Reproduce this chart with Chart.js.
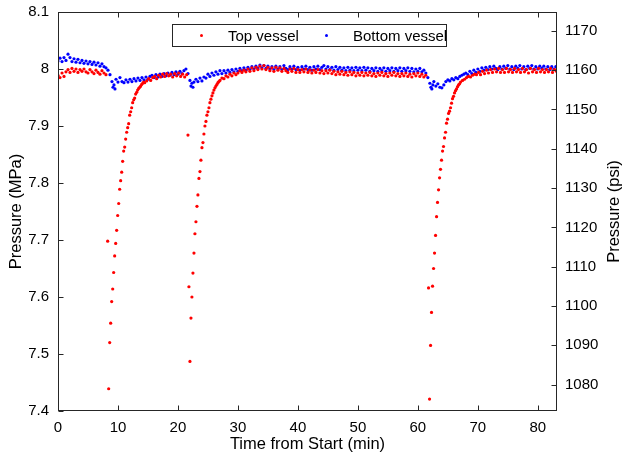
<!DOCTYPE html>
<html>
<head>
<meta charset="utf-8">
<script src="https://cdn.jsdelivr.net/npm/chart.js@4.4.1/dist/chart.umd.min.js"></script>
<style>
  body { margin: 0; background: #fff; }
  #wrap { position: relative; width: 624px; height: 463px; }
  #legend {
    position: absolute; left: 172px; top: 24px; width: 273px; height: 21px;
    border: 1px solid #262626; background: #fff;
    font: 15px "Liberation Sans", Arial, sans-serif; color: #000;
  }
  #legend span { position: absolute; top: 2px; white-space: nowrap; }
  #legend i { position: absolute; top: 9px; width: 3px; height: 3px; border-radius: 50%; }
</style>
</head>
<body>
<div id="wrap">
  <canvas id="chart" width="624" height="463"></canvas>
  <div id="legend">
    <i style="left:27px;background:#ff0000"></i><span style="left:55px">Top vessel</span>
    <i style="left:152px;background:#0000ff"></i><span style="left:180px">Bottom vessel</span>
  </div>
</div>
<script>
// Top vessel (red) - time in min, pressure in MPa
const topTime = [
  0.0, 0.33, 0.67, 1.0, 1.33, 1.67, 2.0, 2.33, 2.67, 3.0, 3.33, 3.67, 4.0, 4.33, 4.67, 5.0, 5.33, 5.67, 6.0, 6.33, 6.67, 7.0, 7.33, 7.67, 8.0,
  8.28, 8.45, 8.62, 8.78, 8.95, 9.12, 9.28, 9.45, 9.62, 9.78, 9.95, 10.12, 10.28, 10.45, 10.62, 10.78, 10.95, 11.12, 11.28, 11.45, 11.62, 11.78, 11.95,
  12.12, 12.28, 12.45, 12.62, 12.78, 12.95, 13.12, 13.28, 13.45, 13.62, 13.78, 13.95, 14.12, 14.28, 14.45,
  14.78, 15.12, 15.45, 15.78, 16.12, 16.45, 16.78, 17.12, 17.45, 17.78, 18.12, 18.45, 18.78, 19.12, 19.45, 19.78, 20.12, 20.45, 20.78, 21.12, 21.45,
  21.67, 21.83, 22.0, 22.17, 22.33, 22.5, 22.67, 22.83, 23.0, 23.17, 23.33, 23.5, 23.67, 23.83, 24.0, 24.17, 24.33, 24.5, 24.67, 24.83,
  25.0, 25.17, 25.33, 25.5, 25.67, 25.83, 26.0, 26.17, 26.33, 26.5, 26.67, 26.83, 27.0, 27.33, 27.67, 28.0, 28.33, 28.67, 29.0, 29.33, 29.67,
  30.0, 30.33, 30.67, 31.0, 31.33, 31.67, 32.0, 32.33, 32.67, 33.0, 33.33, 33.67, 34.0, 34.33, 34.67, 35.0, 35.33, 35.67, 36.0, 36.33, 36.67,
  37.0, 37.33, 37.67, 38.0, 38.33, 38.67, 39.0, 39.33, 39.67, 40.0, 40.33, 40.67, 41.0, 41.33, 41.67, 42.0, 42.33, 42.67, 43.0, 43.33, 43.67,
  44.0, 44.33, 44.67, 45.0, 45.33, 45.67, 46.0, 46.33, 46.67, 47.0, 47.33, 47.67, 48.0, 48.33, 48.67, 49.0, 49.33, 49.67, 50.0, 50.33, 50.67,
  51.0, 51.33, 51.67, 52.0, 52.33, 52.67, 53.0, 53.33, 53.67, 54.0, 54.33, 54.67, 55.0, 55.33, 55.67, 56.0, 56.33, 56.67, 57.0, 57.33, 57.67,
  58.0, 58.33, 58.67, 59.0, 59.33, 59.67, 60.0, 60.33, 60.67, 61.0, 61.33,
  61.78, 61.95, 62.12, 62.28, 62.45, 62.62, 62.78, 62.95, 63.12, 63.28, 63.45, 63.62, 63.78, 63.95, 64.12, 64.28, 64.45, 64.62, 64.78, 64.95,
  65.12, 65.28, 65.45, 65.62, 65.78, 65.95, 66.12, 66.28, 66.45, 66.62, 66.78, 66.95, 67.12, 67.45, 67.78, 68.12, 68.45, 68.78, 69.12, 69.45, 69.78,
  70.12, 70.45, 70.78, 71.12, 71.45, 71.78, 72.12, 72.45, 72.78, 73.12, 73.45, 73.78, 74.12, 74.45, 74.78, 75.12, 75.45, 75.78, 76.12, 76.45, 76.78,
  77.12, 77.45, 77.78, 78.12, 78.45, 78.78, 79.12, 79.45, 79.78, 80.12, 80.45, 80.78, 81.12, 81.45, 81.78, 82.12, 82.45, 82.78, 83.12
];
const topMPa = [
  7.989, 7.985, 7.993, 7.987, 7.995, 7.999, 7.994, 8.001, 7.996, 8.000, 7.994, 7.999, 7.996, 8.000, 7.995, 7.993, 7.999, 7.995, 7.992, 7.998, 7.994, 7.991, 7.997, 7.993, 7.990,
  7.698, 7.439, 7.520, 7.554, 7.592, 7.614, 7.643, 7.672, 7.694, 7.717, 7.743, 7.764, 7.789, 7.804, 7.819, 7.838, 7.856, 7.863, 7.877, 7.889, 7.897, 7.904, 7.919,
  7.925, 7.932, 7.941, 7.946, 7.949, 7.956, 7.959, 7.963, 7.966, 7.968, 7.970, 7.973, 7.975, 7.977, 7.976,
  7.979, 7.983, 7.980, 7.985, 7.987, 7.983, 7.989, 7.986, 7.991, 7.987, 7.992, 7.988, 7.991, 7.986, 7.992, 7.988, 7.993, 7.987, 7.991, 7.986, 7.990,
  7.884, 7.618, 7.487, 7.563, 7.600, 7.642, 7.677, 7.711, 7.732, 7.759, 7.779, 7.808, 7.820, 7.840, 7.862, 7.871, 7.886, 7.900, 7.908, 7.919,
  7.925, 7.932, 7.941, 7.947, 7.953, 7.958, 7.963, 7.967, 7.970, 7.973, 7.976, 7.978, 7.980, 7.984, 7.983, 7.988, 7.986, 7.991, 7.988, 7.993, 7.990,
  7.993, 7.997, 7.994, 7.998, 7.995, 8.000, 7.996, 8.002, 7.997, 8.003, 7.999, 8.005, 8.000, 8.006, 7.999, 8.003, 7.997, 8.002, 7.996, 8.003, 7.998,
  8.002, 7.996, 8.001, 7.997, 7.994, 8.000, 7.996, 8.001, 7.994, 7.999, 7.994, 7.999, 7.995, 8.000, 7.994, 7.998, 7.993, 7.998, 7.994, 7.999, 7.993,
  7.997, 7.992, 7.997, 7.993, 7.998, 7.992, 7.996, 7.990, 7.995, 7.991, 7.996, 7.990, 7.994, 7.989, 7.995, 7.990, 7.994, 7.988, 7.993, 7.989, 7.994,
  7.988, 7.993, 7.989, 7.994, 7.988, 7.992, 7.987, 7.993, 7.989, 7.994, 7.988, 7.992, 7.987, 7.993, 7.989, 7.994, 7.988, 7.992, 7.987, 7.992, 7.988,
  7.993, 7.987, 7.991, 7.986, 7.992, 7.988, 7.993, 7.987, 7.991, 7.986, 7.989,
  7.616, 7.421, 7.515, 7.573, 7.619, 7.650, 7.677, 7.708, 7.741, 7.766, 7.788, 7.809, 7.824, 7.840, 7.856, 7.864, 7.879, 7.889, 7.905, 7.912,
  7.922, 7.926, 7.932, 7.940, 7.948, 7.952, 7.958, 7.962, 7.965, 7.969, 7.972, 7.974, 7.977, 7.980, 7.982, 7.985, 7.987, 7.986, 7.989, 7.991, 7.990,
  7.994, 7.990, 7.996, 7.992, 7.998, 7.993, 7.999, 7.994, 8.000, 7.995, 8.001, 7.994, 7.999, 7.994, 8.001, 7.995, 7.999, 7.994, 8.001, 7.995, 7.999,
  7.994, 8.001, 7.995, 7.999, 7.993, 8.001, 7.995, 7.999, 7.994, 8.001, 7.995, 7.999, 7.994, 7.999, 7.995, 8.001, 7.994, 7.999, 7.996
];

// Bottom vessel (blue)
const bottomTime = [
  0.0, 0.33, 0.67, 1.0, 1.33, 1.67, 2.0, 2.33, 2.67, 3.0, 3.33, 3.67, 4.0, 4.33, 4.67, 5.0, 5.33, 5.67, 6.0, 6.33, 6.67, 7.0, 7.33, 7.67, 8.0,
  8.33, 8.67, 9.0, 9.17, 9.33, 9.5, 9.67, 10.0, 10.33, 10.67, 11.0, 11.33, 11.67, 12.0, 12.33, 12.67, 13.0, 13.33, 13.67, 14.0, 14.33, 14.67,
  15.0, 15.33, 15.67, 16.0, 16.33, 16.67, 17.0, 17.33, 17.67, 18.0, 18.33, 18.67, 19.0, 19.33, 19.67, 20.0, 20.33, 20.67, 21.0, 21.33, 21.67,
  22.0, 22.17, 22.33, 22.5, 22.67, 23.0, 23.33, 23.67, 24.0, 24.33, 24.67, 25.0, 25.33, 25.67, 26.0, 26.33, 26.67, 27.0, 27.33, 27.67,
  28.0, 28.33, 28.67, 29.0, 29.33, 29.67, 30.0, 30.33, 30.67, 31.0, 31.33, 31.67, 32.0, 32.33, 32.67, 33.0, 33.33, 33.67, 34.0, 34.33, 34.67,
  35.0, 35.33, 35.67, 36.0, 36.33, 36.67, 37.0, 37.33, 37.67, 38.0, 38.33, 38.67, 39.0, 39.33, 39.67, 40.0, 40.33, 40.67, 41.0, 41.33, 41.67,
  42.0, 42.33, 42.67, 43.0, 43.33, 43.67, 44.0, 44.33, 44.67, 45.0, 45.33, 45.67, 46.0, 46.33, 46.67, 47.0, 47.33, 47.67, 48.0, 48.33, 48.67,
  49.0, 49.33, 49.67, 50.0, 50.33, 50.67, 51.0, 51.33, 51.67, 52.0, 52.33, 52.67, 53.0, 53.33, 53.67, 54.0, 54.33, 54.67, 55.0, 55.33, 55.67,
  56.0, 56.33, 56.67, 57.0, 57.33, 57.67, 58.0, 58.33, 58.67, 59.0, 59.33, 59.67, 60.0, 60.33, 60.67, 61.0, 61.33, 61.67,
  62.0, 62.17, 62.33, 62.5, 62.67, 63.0, 63.33, 63.67, 64.0, 64.33, 64.67, 65.0, 65.33, 65.67, 66.0, 66.33, 66.67, 67.0, 67.33, 67.67,
  68.0, 68.33, 68.67, 69.0, 69.33, 69.67, 70.0, 70.33, 70.67, 71.0, 71.33, 71.67, 72.0, 72.33, 72.67, 73.0, 73.33, 73.67, 74.0, 74.33, 74.67,
  75.0, 75.33, 75.67, 76.0, 76.33, 76.67, 77.0, 77.33, 77.67, 78.0, 78.33, 78.67, 79.0, 79.33, 79.67, 80.0, 80.33, 80.67, 81.0, 81.33, 81.67,
  82.0, 82.33, 82.67, 83.0
];
const bottomMPa = [
  8.014, 8.019, 8.013, 8.020, 8.015, 8.026, 8.020, 8.013, 8.018, 8.012, 8.017, 8.011, 8.015, 8.010, 8.014, 8.009, 8.013, 8.008, 8.012, 8.007, 8.011, 8.005, 8.009, 8.004, 8.002,
  7.998, 7.990, 7.978, 7.968, 7.972, 7.965, 7.982, 7.977, 7.985, 7.978, 7.976, 7.981, 7.977, 7.982, 7.978, 7.983, 7.979, 7.984, 7.980, 7.985, 7.981, 7.986,
  7.982, 7.987, 7.989, 7.985, 7.990, 7.986, 7.991, 7.987, 7.992, 7.988, 7.993, 7.989, 7.994, 7.990, 7.995, 7.991, 7.996, 7.992, 7.997, 8.000, 7.992,
  7.980, 7.970, 7.975, 7.968, 7.977, 7.982, 7.978, 7.984, 7.979, 7.986, 7.984, 7.991, 7.987, 7.993, 7.989, 7.995, 7.991, 7.997, 7.992, 7.997,
  7.993, 7.998, 7.994, 7.999, 7.995, 8.000, 7.996, 8.001, 7.997, 8.002, 7.998, 8.003, 7.999, 8.004, 8.000, 8.005, 8.001, 8.007, 8.002, 8.006, 8.001,
  8.005, 8.000, 8.004, 7.999, 8.005, 8.000, 8.004, 7.999, 8.006, 8.001, 7.999, 8.004, 8.000, 8.005, 7.999, 8.003, 7.998, 8.004, 8.000, 8.005, 7.999,
  8.003, 7.998, 8.004, 8.000, 8.005, 7.999, 8.003, 8.006, 8.000, 8.004, 7.999, 8.003, 7.998, 8.004, 7.999, 8.003, 7.998, 8.002, 7.997, 8.003, 7.998,
  8.002, 7.997, 8.003, 7.998, 8.002, 7.997, 8.003, 7.998, 8.002, 7.996, 8.001, 7.997, 8.002, 7.996, 8.001, 7.997, 8.002, 7.996, 8.001, 7.997, 8.002,
  7.996, 8.001, 7.997, 8.002, 7.996, 8.001, 7.997, 8.002, 7.996, 8.001, 7.995, 8.000, 7.996, 8.001, 7.995, 7.998, 7.993, 7.985,
  7.975, 7.968, 7.965, 7.972, 7.978, 7.970, 7.974, 7.968, 7.967, 7.972, 7.978, 7.981, 7.979, 7.983, 7.981, 7.985, 7.983, 7.987, 7.989, 7.991,
  7.993, 7.990, 7.996, 7.992, 7.998, 7.994, 8.000, 7.996, 8.002, 7.998, 8.003, 7.999, 8.004, 8.000, 8.005, 8.001, 7.999, 8.004, 8.000, 8.005, 8.001,
  8.006, 8.000, 8.004, 7.999, 8.005, 8.001, 8.006, 8.000, 8.004, 7.999, 8.005, 8.001, 8.006, 8.000, 8.004, 8.000, 8.005, 8.001, 8.005, 8.000, 8.004,
  7.999, 8.004, 8.000, 8.004
];

const psiPerMPa = 145.038;
const mpaRange = [7.4, 8.1];
const timeRange = [0, 83.2];
const rightTitle = 'Pressure (psi)';

const axisColor = '#262626';
const fontFamily = '"Liberation Sans", Arial, Helvetica, sans-serif';

// box around the plot + inward tick marks (MATLAB style) + right axis label read bottom-to-top
const boxTicks = {
  id: 'boxTicks',
  afterDatasetsDraw(chart) {
    const { ctx, chartArea: a, scales } = chart;
    const L = Math.round(a.left) + 0.5, R = Math.round(a.right) - 0.5;
    const T = Math.round(a.top) + 0.5, B = Math.round(a.bottom) - 0.5;
    const len = 5;
    ctx.save();
    ctx.strokeStyle = axisColor;
    ctx.lineWidth = 1;
    ctx.beginPath();
    scales.x.ticks.forEach(t => {
      const px = Math.round(scales.x.getPixelForValue(t.value)) + 0.5;
      ctx.moveTo(px, B); ctx.lineTo(px, B - len);
      ctx.moveTo(px, T); ctx.lineTo(px, T + len);
    });
    scales.y.ticks.forEach(t => {
      const py = Math.round(scales.y.getPixelForValue(t.value)) + 0.5;
      ctx.moveTo(L, py); ctx.lineTo(L + len, py);
    });
    scales.y1.ticks.forEach(t => {
      const py = Math.round(scales.y1.getPixelForValue(t.value)) + 0.5;
      ctx.moveTo(R, py); ctx.lineTo(R - len, py);
    });
    ctx.stroke();
    ctx.strokeRect(L, T, R - L, B - T);

    ctx.translate(scales.y1.right - 10, (a.top + a.bottom) / 2);
    ctx.rotate(-Math.PI / 2);
    ctx.fillStyle = '#000';
    ctx.font = '16.5px ' + fontFamily;
    ctx.textAlign = 'center';
    ctx.textBaseline = 'middle';
    ctx.fillText(rightTitle, 0, 0);
    ctx.restore();
  }
};

const toPoints = (xs, ys) => xs.map((x, i) => ({ x: x, y: ys[i] }));

const fitX = s => { s.height = 52; s.paddingLeft = 0; s.paddingRight = 0; };
const fitY = w => s => { s.width = w; s.paddingTop = 0; s.paddingBottom = 0; };

new Chart(document.getElementById('chart').getContext('2d'), {
  type: 'scatter',
  data: {
    datasets: [
      {
        label: 'Top vessel',
        data: toPoints(topTime, topMPa),
        backgroundColor: '#ff0000',
        borderWidth: 0,
        pointRadius: 1.6,
        order: 1
      },
      {
        label: 'Bottom vessel',
        data: toPoints(bottomTime, bottomMPa),
        backgroundColor: '#0000ff',
        borderWidth: 0,
        pointRadius: 1.6,
        order: 2
      }
    ]
  },
  options: {
    responsive: false,
    animation: false,
    layout: { padding: { top: 12 } },
    plugins: { legend: { display: false }, tooltip: { enabled: false } },
    scales: {
      x: {
        type: 'linear',
        min: timeRange[0], max: timeRange[1],
        afterFit: fitX,
        grid: { display: false, drawTicks: false },
        border: { display: false },
        ticks: { stepSize: 10, includeBounds: false, padding: 8, color: '#000', maxRotation: 0,
                 font: { family: fontFamily, size: 15 } },
        title: { display: true, text: 'Time from Start (min)', color: '#000',
                 font: { family: fontFamily, size: 16.5 }, padding: { bottom: 9 } }
      },
      y: {
        position: 'left',
        min: mpaRange[0], max: mpaRange[1],
        afterFit: fitY(58),
        grid: { display: false, drawTicks: false },
        border: { display: false },
        ticks: { stepSize: 0.1, includeBounds: false, padding: 9, color: '#000',
                 font: { family: fontFamily, size: 15 },
                 callback: v => String(+v.toFixed(1)) },
        title: { display: true, text: 'Pressure (MPa)', color: '#000',
                 font: { family: fontFamily, size: 16.5 }, padding: { top: 7 } }
      },
      y1: {
        position: 'right',
        min: mpaRange[0] * psiPerMPa, max: mpaRange[1] * psiPerMPa,
        afterFit: fitY(67),
        grid: { display: false, drawTicks: false },
        border: { display: false },
        ticks: { stepSize: 10, includeBounds: false, padding: 8, color: '#000',
                 font: { family: fontFamily, size: 15 },
                 callback: v => String(Math.round(v)) },
        title: { display: false }
      }
    }
  },
  plugins: [boxTicks]
});
</script>
</body>
</html>
